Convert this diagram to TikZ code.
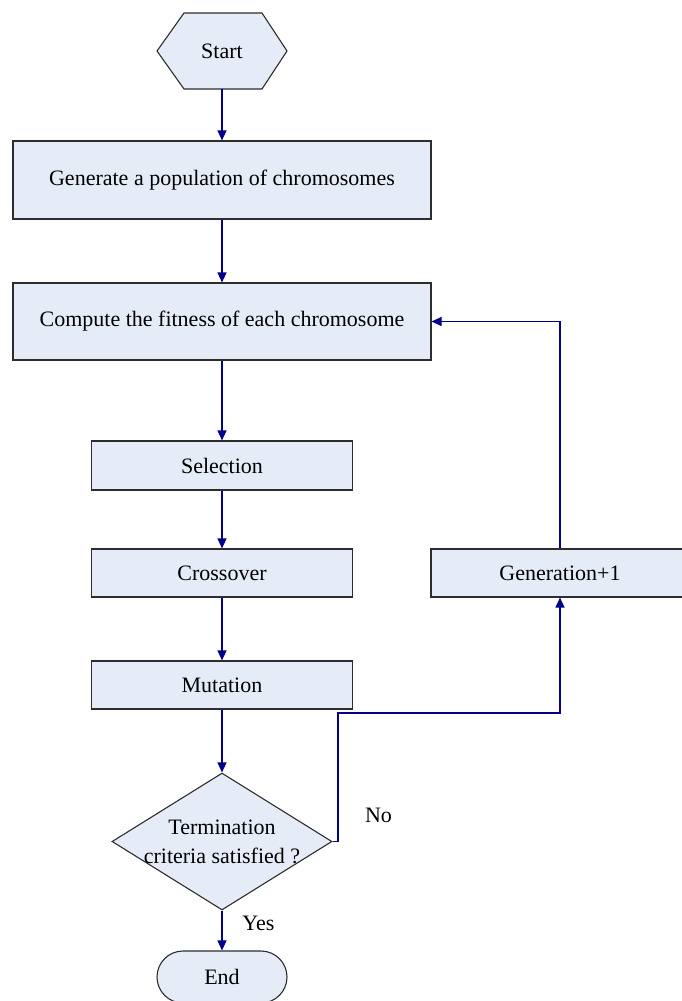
\documentclass[tikz,border=0pt]{standalone}
\usepackage{fontspec}
\setmainfont{Liberation Serif}
\usetikzlibrary{arrows.meta,shapes.geometric}
\definecolor{boxfill}{RGB}{230,236,247}
\definecolor{edgecol}{RGB}{45,45,45}
\definecolor{flowcol}{RGB}{0,0,140}

\begin{document}
\begin{tikzpicture}[x=1pt,y=-1pt,
  every node/.style={font=\fontsize{22}{29}\selectfont},
  shapeline/.style={draw=edgecol, fill=boxfill, line width=1.1pt},
  procbox/.style={shapeline, rectangle, inner sep=0pt},
  flow/.style={draw=flowcol, line width=1.1pt, -{Triangle[length=10pt,width=9pt]}},
  lbl/.style={inner sep=0pt}]
\useasboundingbox (0,0) rectangle (681,1001);

% start terminal (hexagon outline drawn as a path, text node on top)
\path[shapeline] (157,51) -- (184,13) -- (262,13) -- (287,51) -- (262,89) -- (184,89) -- cycle;
\node[lbl, minimum width=130pt, minimum height=76pt] (start) at (222,51) {Start};

% process steps
\node[procbox, minimum width=418pt, minimum height=78pt] (gen) at (222,180) {Generate a population of chromosomes};
\node[procbox, minimum width=418pt, minimum height=77pt] (comp) at (222,321.5) {Compute the fitness of each chromosome};
\node[procbox, minimum width=261pt, minimum height=49pt] (sel) at (222,465.5) {Selection};
\node[procbox, minimum width=261pt, minimum height=48pt] (cross) at (222,573) {Crossover};
\node[procbox, minimum width=261pt, minimum height=48pt] (mut) at (222,685) {Mutation};
\node[procbox, minimum width=258pt, minimum height=48pt] (incr) at (560,573) {Generation+1};

% decision and end terminal
\node[shapeline, diamond, minimum width=220pt, minimum height=137pt, inner sep=0pt] (dec) at (222,841.5) {};
\node[lbl, align=center] (dectext) at (dec.center) {Termination\\criteria satisfied ?};
\node[shapeline, rectangle, rounded corners=26pt, minimum width=130pt, minimum height=52pt, inner sep=0pt] (end) at (222,977) {End};

% branch labels
\node[lbl] (yes) at (258.5,923) {Yes};
\node[lbl] (no) at (378.5,815) {No};

% main flow
\draw[flow] (start.south) -- (gen.north);
\draw[flow] (gen.south) -- (comp.north);
\draw[flow] (comp.south) -- (sel.north);
\draw[flow] (sel.south) -- (cross.north);
\draw[flow] (cross.south) -- (mut.north);
\draw[flow] (mut.south) -- (dec.north);
\draw[flow] (dec.south) -- (end.north);

% loop back for the next generation
\coordinate (bend) at (338,713);
\draw[flow] (dec.east) -| (bend) -| (incr.south);
\draw[flow] (incr.north) |- (comp.east);
\end{tikzpicture}
\end{document}
